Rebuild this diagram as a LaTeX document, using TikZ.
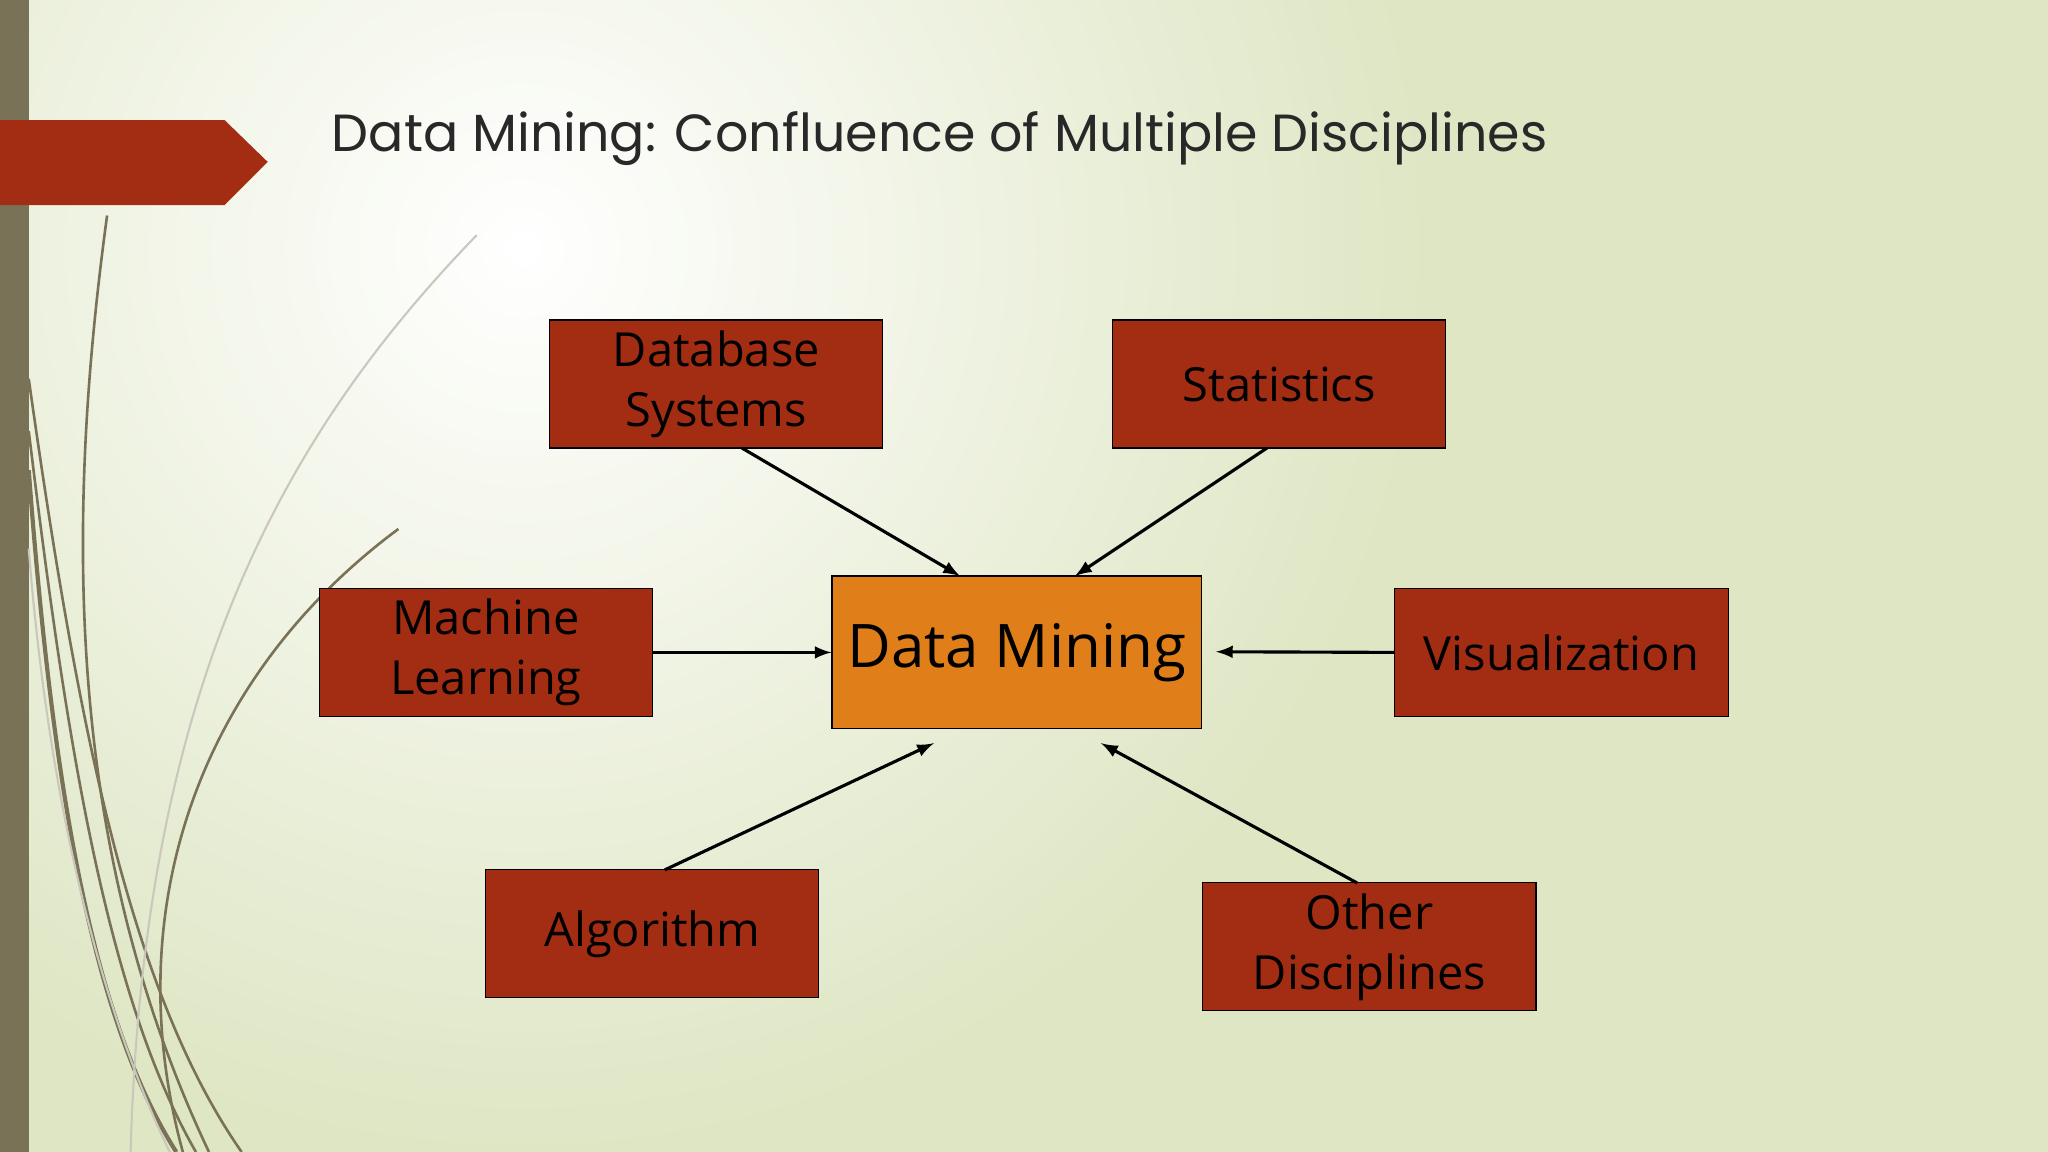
\documentclass[tikz,border=0pt]{standalone}
\usepackage{fontspec}
\setmainfont{Open Sans}
\newfontfamily\titlefont{Poppins}
\definecolor{bg}{RGB}{222,230,196}
\definecolor{boxred}{RGB}{163,45,18}
\definecolor{dmor}{RGB}{224,127,26}
\definecolor{olive}{RGB}{122,114,87}
\definecolor{ttl}{RGB}{40,40,40}
\begin{document}
\begin{tikzpicture}[x=0.5pt,y=-0.5pt,
  bx/.style={draw=black,fill=boxred,minimum width=127.5pt,minimum height=49pt,inner sep=0pt,align=center,font=\fontsize{18}{23}\selectfont,text=black},
  arr/.style={-latex,line width=1.2pt}]
\useasboundingbox (0,0) rectangle (1568,882);
\fill[bg] (0,0) rectangle (1568,882);
\shade[inner color=white,outer color=bg] (400,190) circle[radius=700];
\fill[olive] (0,0) rectangle (22,882);
\fill[boxred] (0,92) -- (172,92) -- (205,124) -- (172,157) -- (0,157) -- cycle;
\node[anchor=west,font=\titlefont\fontsize{20}{24}\selectfont,text=ttl] (title) at (247,106) {Data Mining: Confluence of Multiple Disciplines};
% decorative curves
\begin{scope}[olive,line width=1pt]
\draw (82,165) .. controls (50,400) and (50,650) .. (160,882);
\draw (22,290) .. controls (60,560) and (100,760) .. (185,882);
\draw (22,330) .. controls (50,560) and (80,760) .. (150,882);
\draw[line width=1.6pt] (22,360) .. controls (40,600) and (70,780) .. (135,882);
\draw (305,405) .. controls (150,520) and (90,700) .. (140,882);
\draw[olive!40,line width=0.8pt] (365,180) .. controls (220,330) and (110,520) .. (100,882);
\draw[olive!40,line width=0.8pt] (22,420) .. controls (40,650) and (90,800) .. (130,882);
\end{scope}
\node[bx] (db) at (548.5,294) {Database\\Systems};
\node[bx] (st) at (979.5,294) {Statistics};
\node[bx] (ml) at (372,499.5) {Machine\\Learning};
\node[bx] (vi) at (1195.5,499.5) {Visualization};
\node[bx] (al) at (499.5,715) {Algorithm};
\node[bx] (ot) at (1048.5,725) {Other\\Disciplines};
\node[draw=black,fill=dmor,minimum width=141.5pt,minimum height=58.5pt,inner sep=0pt,font=\fontsize{23}{28}\selectfont] (dm) at (778.5,499.5) {Data Mining};
\coordinate (e1) at (735,441);
\coordinate (e2) at (823,441);
\coordinate (e3) at (931,499);
\coordinate (e4) at (715,569);
\coordinate (e5) at (843,569);
\coordinate (s1) at (568,343);
\coordinate (s2) at (970,343);
\coordinate (s4) at (509,666);
\coordinate (s5) at (1039,676);
\draw[arr] (s1) -- (e1);
\draw[arr] (s2) -- (e2);
\draw[arr] (ml.east) -- (dm.west);
\draw[arr] (vi.west) -- (e3);
\draw[arr] (s4) -- (e4);
\draw[arr] (s5) -- (e5);
\end{tikzpicture}
\end{document}
